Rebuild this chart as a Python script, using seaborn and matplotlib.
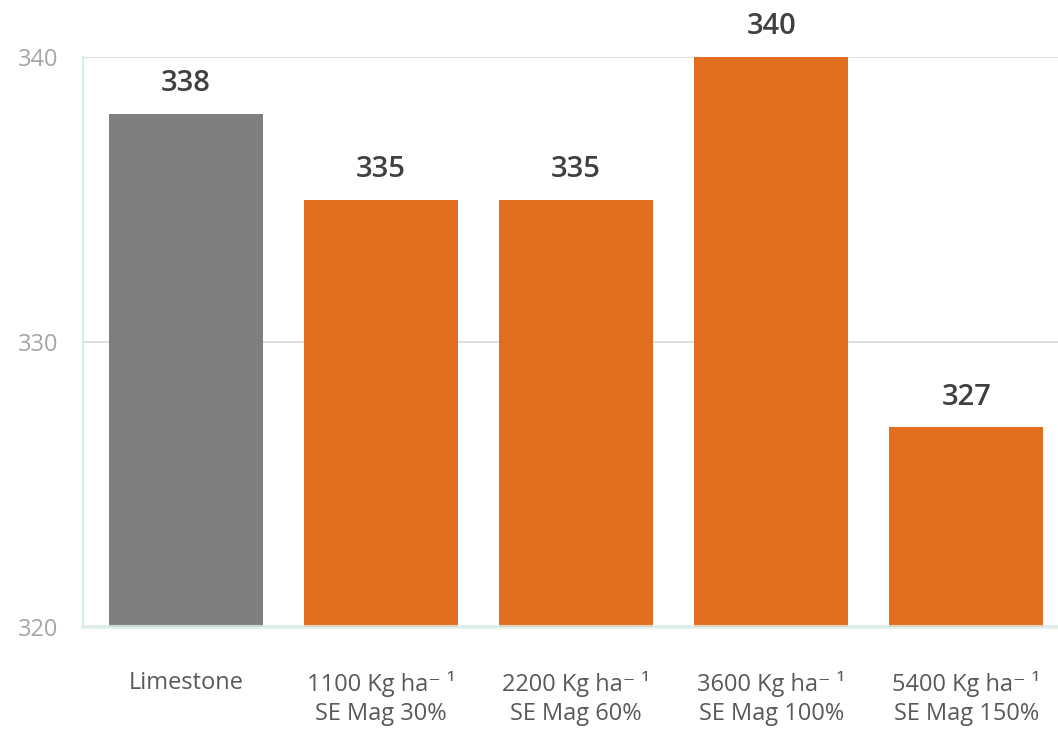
import pandas as pd
import seaborn as sns
import matplotlib.pyplot as plt

# chart data
categories = [
    "Limestone",
    "1100 Kg ha\u207b \u00b9\nSE Mag 30%",
    "2200 Kg ha\u207b \u00b9\nSE Mag 60%",
    "3600 Kg ha\u207b \u00b9\nSE Mag 100%",
    "5400 Kg ha\u207b \u00b9\nSE Mag 150%",
]
values = [338, 335, 335, 340, 327]
bar_colors = ["#7f7f7f", "#e06e1e", "#e06e1e", "#e06e1e", "#e06e1e"]
y_ticks = [320, 330, 340]

df = pd.DataFrame({"cat": categories, "val": values})

sns.set_style("white")
plt.rcParams['font.family'] = ['Open Sans', 'DejaVu Sans']

fig = plt.figure(figsize=(10.58, 7.31), dpi=100)
ax = fig.add_axes([0.0784, 0.1423, 0.9216, 0.7797])

sns.barplot(data=df, x="cat", y="val", hue="cat", palette=bar_colors,
            saturation=1, linewidth=0, legend=False, width=0.79, ax=ax,
            zorder=2)

ax.set_ylim(320, 340)
ax.set_xlim(-0.528, 4.47)
ax.set_yticks(y_ticks)
ax.yaxis.grid(True, color="#d9d9d9", linewidth=1.2, zorder=0)
ax.set_axisbelow(True)

for i, v in enumerate(values):
    ax.text(i, v + 0.55, f"{v}", ha="center", va="bottom",
            fontsize=21, fontweight="semibold", color="#404040")

ax.set_xlabel("")
ax.set_ylabel("")
ax.tick_params(axis="y", length=0, labelsize=17, labelcolor="#a6a6a6", pad=18)
ax.tick_params(axis="x", length=0, labelsize=17, labelcolor="#595959", pad=32)
for lbl in ax.get_xticklabels():
    lbl.set_linespacing(1.25)

for s in ["top", "right"]:
    ax.spines[s].set_visible(False)
ax.spines["left"].set_color("#dbece6")
ax.spines["left"].set_linewidth(1.5)
ax.spines["bottom"].set_color("#dfeee9")
ax.spines["bottom"].set_linewidth(3)
ax.spines["bottom"].set_alpha(0.8)
ax.spines["bottom"].set_zorder(3)

plt.savefig("out.png", dpi=100)
